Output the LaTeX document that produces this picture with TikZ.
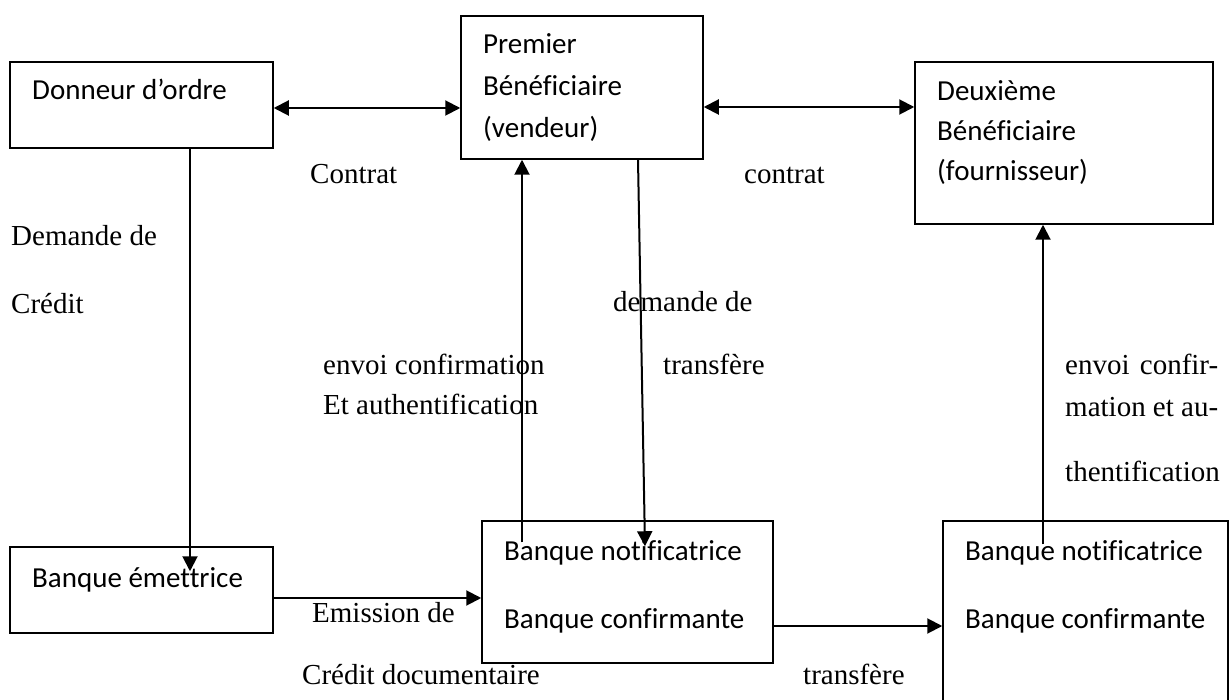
\documentclass[tikz,border=0pt]{standalone}
\usepackage{fontspec}
\setmainfont{Liberation Serif}
\newfontfamily\boxfont[Ligatures=NoCommon]{Carlito}
\usetikzlibrary{arrows.meta,calc}
\begin{document}
\begin{tikzpicture}[x=1pt,y=-1pt,
  box/.style={draw, line width=1.5pt, inner sep=0pt, rectangle},
  btxt/.style={font=\boxfont\fontsize{29}{35}\selectfont, inner sep=0pt, anchor=base west},
  lbl/.style={font=\fontsize{29}{35}\selectfont, inner sep=0pt, anchor=base west},
  arr/.style={line width=2pt, -{Triangle[length=15pt,width=15pt]}},
  darr/.style={line width=2pt, {Triangle[length=15pt,width=15pt]}-{Triangle[length=15pt,width=15pt]}}]
\useasboundingbox (0,0) rectangle (1232,700);
\clip (0,0) rectangle (1232,700);
\fill[white] (0,0) rectangle (1232,700);

% boxes
\node[box, minimum width=263pt, minimum height=86pt] (donneur) at (141.5,105) {};
\node[box, minimum width=242pt, minimum height=143pt] (premier) at (582,87.5) {};
\node[box, minimum width=298pt, minimum height=162pt] (deuxieme) at (1064,143) {};
\node[box, minimum width=263pt, minimum height=86pt] (emettrice) at (141.5,590) {};
\node[box, minimum width=291pt, minimum height=142pt] (notif1) at (627.5,592) {};
\node[box, minimum width=285pt, minimum height=191pt] (notif2) at (1085.5,616.5) {};

% box texts
\node[btxt] (t1) at (32,100) {Donneur d’ordre};
\node[btxt] (t2a) at (483,54) {Premier};
\node[btxt] (t2b) at (483,96) {Bénéficiaire};
\node[btxt] (t2c) at (483,138) {(vendeur)};
\node[btxt] (t3a) at (937,101) {Deuxième};
\node[btxt] (t3b) at (937,141) {Bénéficiaire};
\node[btxt] (t3c) at (937,181) {(fournisseur)};
\node[btxt] (t4) at (32,587) {Banque émettrice};
\node[btxt] (t5a) at (504,560) {Banque notificatrice};
\node[btxt] (t5b) at (504,628) {Banque confirmante};
\node[btxt] (t6a) at (965,560) {Banque notificatrice};
\node[btxt] (t6b) at (965,628) {Banque confirmante};

% labels
\node[lbl] (contrat1) at (310,184) {Contrat};
\node[lbl] (contrat2) at (744,184) {contrat};
\node[lbl] (dem1) at (11,246) {Demande de};
\node[lbl] (dem2) at (11,314) {Crédit};
\node[lbl] (dt1) at (613,312) {demande de};
\node[lbl] (dt2) at (663,375) {transfère};
\node[lbl] (env1) at (323,375) {envoi confirmation};
\node[lbl] (env2) at (323,415) {Et authentification};
\node[lbl] (env3) at (1065,375) {\hbox to 153pt{envoi\hfill confir-}};
\node[lbl] (env4) at (1065,417) {\hbox to 153pt{mation\hfill et\hfill au-}};
\node[lbl] (env5) at (1065,482) {thentification};
\node[lbl] (em1) at (312,622) {Emission de};
\node[lbl] (em2) at (302,684) {Crédit documentaire};
\node[lbl] (tr) at (803,684) {transfère};

% connectors
\draw[darr] ([yshift=-3pt]donneur.east) -- ([yshift=-3pt]donneur.east -| premier.west);
\draw[darr] ([yshift=-19.5pt]premier.east) -- ([yshift=-19.5pt]premier.east -| deuxieme.west);
\draw[arr] ([xshift=48.5pt]donneur.south) -- ([xshift=48.5pt,yshift=-25pt]emettrice.north);
\draw[arr] ([yshift=-8pt]emettrice.east) -- ([yshift=-8pt]emettrice.east -| notif1.west);
\draw[arr] ([yshift=-34pt]notif1.east) -- ([yshift=-34pt]notif1.east -| notif2.west);
\draw[arr] ([xshift=-105.5pt,yshift=-22pt]notif1.north) -- ([xshift=-60pt]premier.south);
\draw[arr] ([xshift=56pt]premier.south) -- ([xshift=17.5pt,yshift=-26pt]notif1.north);
\draw[arr] ([xshift=-42.5pt,yshift=-24pt]notif2.north) -- ([xshift=-21pt]deuxieme.south);
\end{tikzpicture}
\end{document}
